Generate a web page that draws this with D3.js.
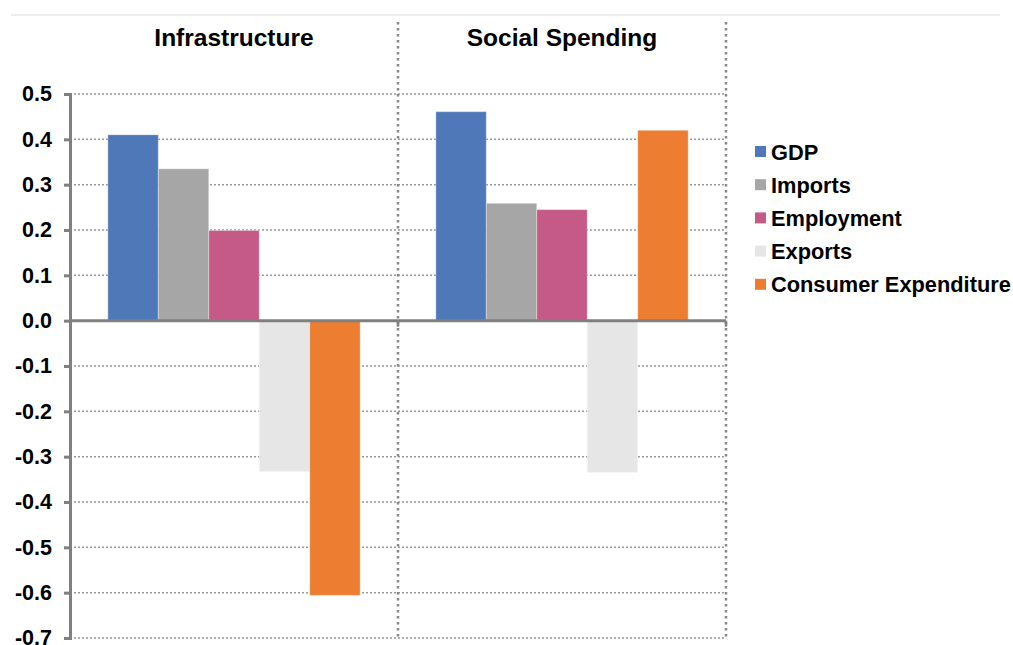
<!DOCTYPE html>
<html lang="en">
<head>
  <meta charset="UTF-8">
  <title>Infrastructure vs Social Spending</title>
  <script src="https://d3js.org/d3.v7.min.js"></script>
  <style>
    body {
      margin: 0;
      font-family: "Liberation Sans", Arial, sans-serif;
      background: #fff;
    }
  </style>
</head>
<body>
  <div id="chart"></div>

  <script>
    // data
    const groups = ["Infrastructure", "Social Spending"];
    const seriesNames = ["GDP", "Imports", "Employment", "Exports", "Consumer Expenditure"];
    const infrastructure = [0.41, 0.335, 0.199, -0.333, -0.606];
    const socialSpending = [0.461, 0.259, 0.245, -0.335, 0.42];
    const yTicks = [0.5, 0.4, 0.3, 0.2, 0.1, 0.0, -0.1, -0.2, -0.3, -0.4, -0.5, -0.6, -0.7];
    const colors = ["#4e78b7", "#a6a6a6", "#c55a86", "#e6e6e6", "#ed7d31"];

    const values = [infrastructure, socialSpending];

    const W = 1013, H = 645;
    const plot = {left: 70, right: 726, top: 94, bottom: 638};
    const FONT = "'Liberation Sans', Arial, sans-serif";

    const svg = d3.select("#chart")
                  .append("svg")
                  .attr("width", W)
                  .attr("height", H)
                  .style("font-family", FONT);

    // faint line across the top
    svg.append("line")
       .attr("x1", 11).attr("x2", 1000)
       .attr("y1", 15).attr("y2", 15)
       .attr("stroke", "#eeeeee")
       .attr("stroke-width", 2);

    const y = d3.scaleLinear()
                .domain([-0.7, 0.5])
                .range([plot.bottom, plot.top]);

    const x0 = d3.scaleBand()
                 .domain(groups)
                 .range([plot.left, plot.right])
                 .padding(0);

    const x1 = d3.scaleBand()
                 .domain(seriesNames)
                 .range([0, x0.bandwidth()])
                 .paddingOuter(0.75)
                 .paddingInner(0);

    // horizontal dotted gridlines
    svg.append("g")
       .selectAll("line")
       .data(yTicks.filter(d => d !== 0))
       .enter()
       .append("line")
       .attr("x1", plot.left)
       .attr("x2", plot.right)
       .attr("y1", d => y(d))
       .attr("y2", d => y(d))
       .attr("stroke", "#9a9a9a")
       .attr("stroke-width", 1.5)
       .attr("stroke-dasharray", "2,2");

    // vertical dotted dividers
    svg.append("g")
       .selectAll("line")
       .data(groups)
       .enter()
       .append("line")
       .attr("x1", d => x0(d) + x0.bandwidth())
       .attr("x2", d => x0(d) + x0.bandwidth())
       .attr("y1", 22)
       .attr("y2", plot.bottom)
       .attr("stroke", "#888")
       .attr("stroke-width", 2.5)
       .attr("stroke-dasharray", "2.5,3.5");

    // bars
    groups.forEach((g, gi) => {
      svg.append("g")
         .attr("transform", `translate(${x0(g)},0)`)
         .selectAll("rect")
         .data(seriesNames.map((s, i) => ({s, v: values[gi][i], i})))
         .enter()
         .append("rect")
         .attr("x", d => x1(d.s))
         .attr("y", d => y(Math.max(0, d.v)))
         .attr("width", x1.bandwidth())
         .attr("height", d => Math.abs(y(d.v) - y(0)))
         .attr("fill", d => colors[d.i])
         .attr("stroke", "rgba(255,255,255,0.35)")
         .attr("stroke-width", 1);

      svg.append("text")
         .attr("x", x0(g) + x0.bandwidth() / 2)
         .attr("y", 46)
         .attr("text-anchor", "middle")
         .attr("font-size", "24.5px")
         .attr("font-weight", "bold")
         .attr("fill", "#000")
         .text(g);
    });

    // zero line with small ticks at the dividers
    svg.append("line")
       .attr("x1", plot.left).attr("x2", plot.right)
       .attr("y1", y(0)).attr("y2", y(0))
       .attr("stroke", "#808080")
       .attr("stroke-width", 3);

    svg.append("g")
       .selectAll("line")
       .data(groups)
       .enter()
       .append("line")
       .attr("x1", d => x0(d) + x0.bandwidth())
       .attr("x2", d => x0(d) + x0.bandwidth())
       .attr("y1", y(0))
       .attr("y2", y(0) + 6)
       .attr("stroke", "#808080")
       .attr("stroke-width", 2.5);

    // y axis (plain hyphen for negatives, as in the original)
    const yAxis = d3.axisLeft(y)
                    .tickValues(yTicks)
                    .tickSize(6)
                    .tickFormat(d => d.toFixed(1));

    const ax = svg.append("g")
                  .attr("transform", `translate(${plot.left},0)`)
                  .attr("font-family", FONT)
                  .attr("font-size", 21)
                  .call(yAxis);
    ax.select(".domain")
      .attr("stroke", "#808080")
      .attr("stroke-width", 3);
    ax.selectAll(".tick line")
      .attr("stroke", "#808080")
      .attr("stroke-width", 3);
    ax.selectAll(".tick text")
      .attr("x", -18)
      .attr("font-size", "21.5px")
      .attr("font-weight", "bold")
      .attr("fill", "#000");

    // legend
    const legend = svg.append("g")
                      .attr("transform", "translate(755,152)");
    const rows = legend.selectAll("g")
                       .data(seriesNames)
                       .enter()
                       .append("g")
                       .attr("transform", (d, i) => `translate(0,${i * 33.2})`);
    rows.append("rect")
        .attr("x", 0).attr("y", -6)
        .attr("width", 11).attr("height", 11)
        .attr("fill", (d, i) => colors[i]);
    rows.append("text")
        .attr("x", 16)
        .attr("y", 7.5)
        .attr("font-size", "21.8px")
        .attr("font-weight", "bold")
        .attr("fill", "#000")
        .text(d => d);
  </script>
</body>
</html>
